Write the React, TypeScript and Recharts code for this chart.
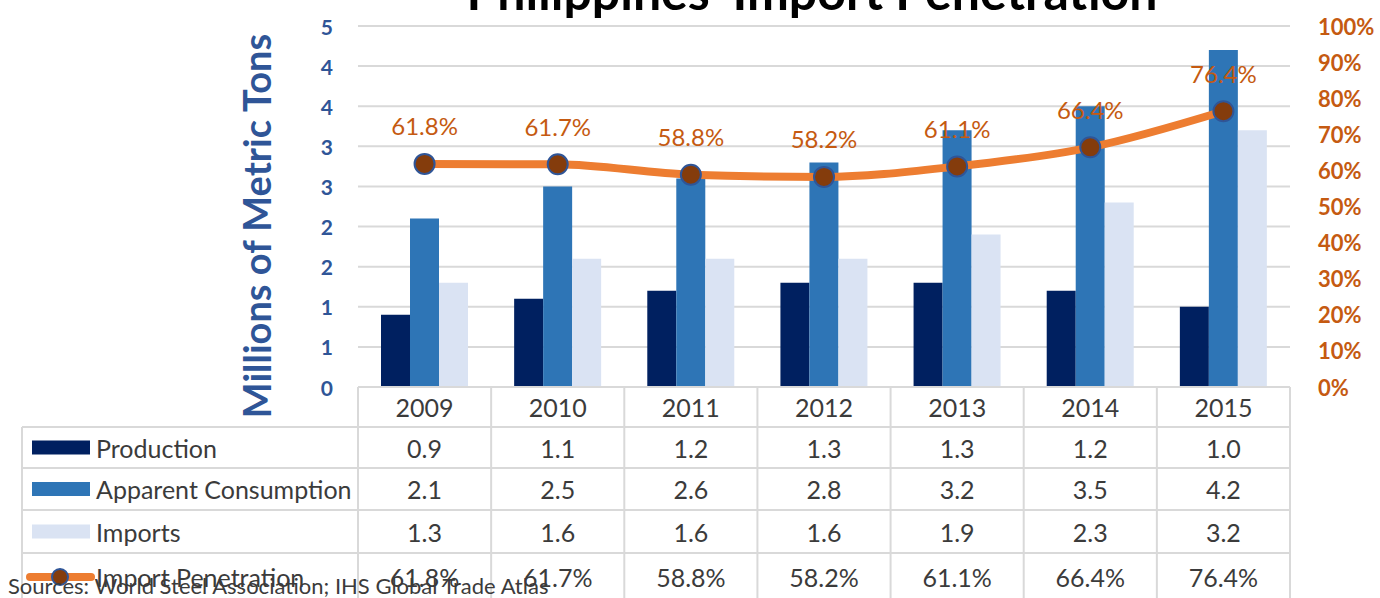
import React from "react";
import {
  Bar,
  CartesianGrid,
  ComposedChart,
  LabelList,
  Line,
  XAxis,
  YAxis,
} from "recharts";

const years = ["2009", "2010", "2011", "2012", "2013", "2014", "2015"];
const production = [0.9, 1.1, 1.2, 1.3, 1.3, 1.2, 1.0];
const consumption = [2.1, 2.5, 2.6, 2.8, 3.2, 3.5, 4.2];
const imports = [1.3, 1.6, 1.6, 1.6, 1.9, 2.3, 3.2];
const penetration = [61.8, 61.7, 58.8, 58.2, 61.1, 66.4, 76.4];

const leftTicks = [0, 0.5, 1, 1.5, 2, 2.5, 3, 3.5, 4, 4.5];
const rightTicks = [0, 0.1, 0.2, 0.3, 0.4, 0.5, 0.6, 0.7, 0.8, 0.9, 1];

const data = years.map((year, i) => ({
  year,
  production: production[i],
  consumption: consumption[i],
  imports: imports[i],
  pen: penetration[i] / 100,
}));

const W = 1380;
const H = 598;
const TOP = 26;
const TABLE_H = 211;
const LEFT_W = 358;
const RIGHT_W = 90;
const PLOT_BOTTOM = H - TABLE_H;
const COL_W = (W - LEFT_W - RIGHT_W) / years.length;
// row boundaries of the data table (header, then 4 rows)
const ROWS = [PLOT_BOTTOM, 427, 468, 510, 553, 640];

const FONT = "Lato, 'Open Sans', sans-serif";
const GRID = "#D9D9D9";
const TEXT = "#3b3b3b";
const TABLE_FS = 25;

const C_PROD = "#002060";
const C_CONS = "#2E75B6";
const C_IMP = "#DAE3F3";
const C_LINE = "#ED7D31";
const C_DOT = "#843C0C";
const C_BLUE = "#2F5597";
const C_ORANGE = "#C55A11";

const rowValues = [
  production.map((v) => v.toFixed(1)),
  consumption.map((v) => v.toFixed(1)),
  imports.map((v) => v.toFixed(1)),
  penetration.map((v) => v.toFixed(1) + "%"),
];

const legendRows = ["Production", "Apparent Consumption", "Imports", "Import Penetration"];
const legendColors = [C_PROD, C_CONS, C_IMP];

function rowMid(r: number) {
  return Math.min((ROWS[r] + ROWS[r + 1]) / 2, 577);
}

function LegendColumn() {
  const x0 = 22;
  return (
    <g>
      {ROWS.slice(1, 5).map((y) => (
        <line key={y} x1={x0} x2={LEFT_W} y1={y} y2={y} stroke={GRID} strokeWidth={2} />
      ))}
      <line x1={x0} x2={x0} y1={ROWS[1]} y2={H} stroke={GRID} strokeWidth={2} />
      {legendRows.map((name, r) => {
        const cy = rowMid(r + 1);
        return (
          <g key={name}>
            {r < 3 ? (
              <rect x={32} y={cy - 7} width={58} height={14} fill={legendColors[r]} />
            ) : (
              <g>
                <line x1={30} x2={91} y1={cy} y2={cy} stroke={C_LINE} strokeWidth={8} strokeLinecap="round" />
                <circle cx={60} cy={cy} r={8} fill={C_DOT} stroke={C_BLUE} strokeWidth={2} />
              </g>
            )}
            <text x={96} y={cy} dominantBaseline="central" fontSize={TABLE_FS} fill={TEXT} fontFamily={FONT}>
              {name}
            </text>
          </g>
        );
      })}
    </g>
  );
}

function TableTick(props: any) {
  const { x, payload, index } = props;
  const i = payload?.index ?? index;
  const left = x - COL_W / 2;
  const right = x + COL_W / 2;
  return (
    <g>
      {i === 0 && <LegendColumn />}
      <line x1={left} x2={right} y1={ROWS[0]} y2={ROWS[0]} stroke={GRID} strokeWidth={2} />
      {ROWS.slice(1, 5).map((y) => (
        <line key={y} x1={left} x2={right} y1={y} y2={y} stroke={GRID} strokeWidth={2} />
      ))}
      <line x1={left} x2={left} y1={ROWS[0]} y2={H} stroke={GRID} strokeWidth={2} />
      {i === years.length - 1 && (
        <line x1={right} x2={right} y1={ROWS[0]} y2={H} stroke={GRID} strokeWidth={2} />
      )}
      <text x={x} y={rowMid(0)} textAnchor="middle" dominantBaseline="central" fontSize={TABLE_FS} fill={TEXT} fontFamily={FONT}>
        {payload.value}
      </text>
      {rowValues.map((vals, r) => (
        <text
          key={r}
          x={x}
          y={rowMid(r + 1)}
          textAnchor="middle"
          dominantBaseline="central"
          fontSize={TABLE_FS}
          fill={TEXT}
          fontFamily={FONT}
        >
          {vals[i]}
        </text>
      ))}
    </g>
  );
}

function LeftTick(props: any) {
  const { y, payload } = props;
  return (
    <text x={LEFT_W - 25} y={y} textAnchor="end" dominantBaseline="central" fontSize={21} fontWeight={700} fill={C_BLUE} fontFamily={FONT}>
      {Math.round(payload.value)}
    </text>
  );
}

function RightTick(props: any) {
  const { y, payload } = props;
  return (
    <text x={W - RIGHT_W + 28} y={y} textAnchor="start" dominantBaseline="central" fontSize={22} fontWeight={700} fill={C_ORANGE} fontFamily={FONT}>
      {Math.round(payload.value * 100) + "%"}
    </text>
  );
}

function PenDot(props: any) {
  const { cx, cy, index } = props;
  return <circle key={index} cx={cx} cy={cy} r={10} fill={C_DOT} stroke={C_BLUE} strokeWidth={2} />;
}

function PenLabel(props: any) {
  const { x, y, value } = props;
  return (
    <text x={x} y={y - 38} textAnchor="middle" dominantBaseline="central" fontSize={24} fill={C_ORANGE} fontFamily={FONT}>
      {(value * 100).toFixed(1) + "%"}
    </text>
  );
}

export default function App() {
  return (
    <div style={{ position: "absolute", left: 0, top: 0, width: W, height: H, overflow: "hidden", background: "#fff" }}>
      <ComposedChart width={W} height={H} data={data} margin={{ top: TOP, right: 0, bottom: 0, left: 0 }} barGap={0}>
        <CartesianGrid yAxisId="left" vertical={false} stroke={GRID} strokeWidth={2} />
        <XAxis dataKey="year" height={TABLE_H} axisLine={false} tickLine={false} interval={0} tick={<TableTick />} />
        <YAxis
          yAxisId="left"
          width={LEFT_W}
          domain={[0, 4.5]}
          ticks={leftTicks}
          axisLine={false}
          tickLine={false}
          tick={<LeftTick />}
        />
        <YAxis
          yAxisId="right"
          orientation="right"
          width={RIGHT_W}
          domain={[0, 1]}
          ticks={rightTicks}
          axisLine={false}
          tickLine={false}
          tick={<RightTick />}
        />
        <Bar yAxisId="left" dataKey="production" fill={C_PROD} barSize={29} isAnimationActive={false} />
        <Bar yAxisId="left" dataKey="consumption" fill={C_CONS} barSize={29} isAnimationActive={false} />
        <Bar yAxisId="left" dataKey="imports" fill={C_IMP} barSize={29} isAnimationActive={false} />
        <Line
          yAxisId="right"
          type="monotone"
          dataKey="pen"
          stroke={C_LINE}
          strokeWidth={8}
          dot={<PenDot />}
          activeDot={false}
          isAnimationActive={false}
        >
          <LabelList dataKey="pen" content={<PenLabel />} />
        </Line>
      </ComposedChart>
      <svg width={W} height={H} style={{ position: "absolute", left: 0, top: 0, pointerEvents: "none" }}>
        <text x={812} y={10} textAnchor="middle" fontSize={50} fontWeight={700} fill="#000" fontFamily={FONT}>
          Philippines' Import Penetration
        </text>
        <text
          x={0}
          y={0}
          transform="translate(271 226) rotate(-90)"
          textAnchor="middle"
          fontSize={38}
          fontWeight={700}
          fill={C_BLUE}
          fontFamily={FONT}
        >
          Millions of Metric Tons
        </text>
        <text x={8} y={594} fontSize={22} fill={TEXT} fontFamily={FONT}>
          Sources: World Steel Association; IHS Global Trade Atlas
        </text>
      </svg>
    </div>
  );
}
